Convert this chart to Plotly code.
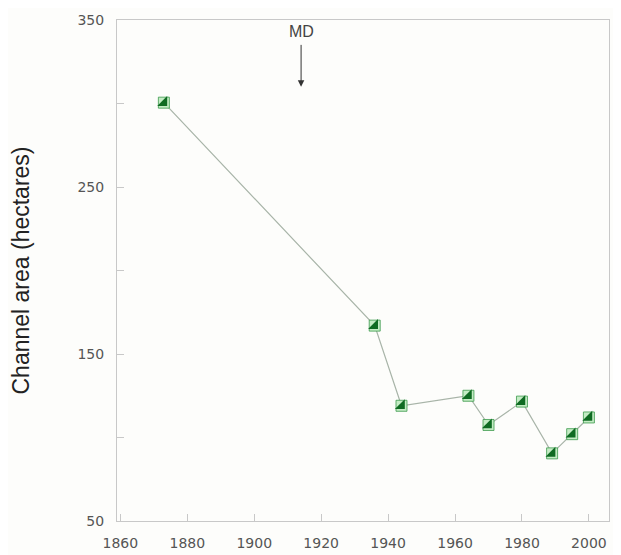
import plotly.graph_objects as go

years = [1873, 1936, 1944, 1964, 1970, 1980, 1989, 1995, 2000]
area = [300.5, 167, 119, 125, 107.5, 121.5, 90.5, 102, 112]
x_ticks = [1860, 1880, 1900, 1920, 1940, 1960, 1980, 2000]
y_ticks = [50, 150, 250, 350]
md_year = 1914

fig = go.Figure()
fig.add_trace(go.Scatter(
    x=years, y=area, mode="lines",
    line=dict(color="#a8b4a8", width=1.2),
    hoverinfo="skip", showlegend=False))
fig.add_trace(go.Scatter(
    x=years, y=area, mode="markers",
    marker=dict(symbol="square", size=11, color="#c4ecc4",
                line=dict(color="#3c9a4c", width=0.8)),
    showlegend=False))
fig.add_trace(go.Scatter(
    x=years, y=area, mode="markers",
    marker=dict(symbol="triangle-se", size=11, color="#0f6b22",
                line=dict(width=0)),
    showlegend=False))

fig.add_annotation(x=md_year, y=310, ax=md_year, ay=336, axref="x", ayref="y",
                   xref="x", yref="y", text="", showarrow=True,
                   arrowhead=2, arrowsize=1.3, arrowwidth=1, arrowcolor="#333")
fig.add_annotation(x=md_year, y=343, xref="x", yref="y", text="MD",
                   showarrow=False,
                   font=dict(size=16, color="#444", family="Liberation Sans"))

axis_common = dict(showline=True, linecolor="#c8c8c8", linewidth=1, mirror=True,
                   showgrid=False, zeroline=False, ticks="inside", ticklen=7,
                   automargin=False,
                   tickcolor="#c8c8c8", tickfont=dict(size=14, color="#555",
                                                       family="DejaVu Sans"))
fig.update_xaxes(range=[1859, 2006], tickvals=x_ticks, ticklabelstandoff=9,
                 **axis_common)
fig.update_yaxes(range=[50, 350], tickvals=y_ticks, ticklabelstandoff=9,
                 minor=dict(tickvals=[100, 200, 300], ticks="inside", ticklen=7,
                            tickcolor="#c8c8c8"),
                 title=dict(text="Channel area (hectares)",
                            font=dict(size=23, color="#222", family="Liberation Sans"),
                            standoff=44),
                 **axis_common)

fig.update_layout(width=621, height=555,
                  margin=dict(l=109, r=20, t=12, b=42),
                  paper_bgcolor="#fdfdfb", plot_bgcolor="#fdfdfb")
fig.write_html("out.html")
